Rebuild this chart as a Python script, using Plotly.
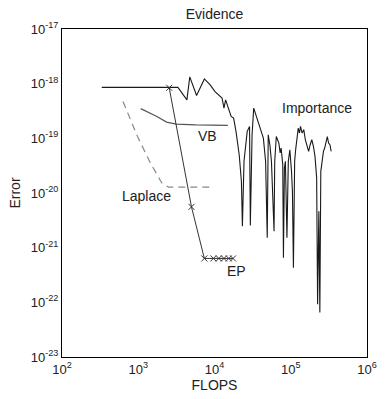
import math
import plotly.graph_objects as go

# ---- data ----
imp_x = [332, 3311, 4345, 4742, 5821, 7362, 8776, 10150, 12560, 13310, 13990, 16520, 17820, 19130,
         21080, 22540, 23220, 24380, 26850, 28820, 29510, 31100, 32690, 35990, 39720, 43750, 46790,
         49170, 50670, 53230, 55820, 60390, 61640, 64610, 69850, 72600, 74780, 78570, 80160, 82570,
         85060, 89120, 92890, 97310, 102300, 105200, 108400, 112500, 115900, 121900, 125400, 130300,
         134200, 141000, 148200, 155300, 163200, 171500, 179700, 188800, 198400, 208000, 218600,
         225000, 233700, 240800, 247800, 258300, 268400, 278800, 292900, 301600, 313400, 326400, 339000]
imp_y = [8.55e-19, 8.55e-19, 5.06e-19, 1.33e-18, 6.07e-19, 1.22e-18, 9.5e-19, 7.18e-19, 5.44e-19,
         3.57e-19, 5.06e-19, 2.51e-19, 2.35e-19, 1.34e-19, 5.02e-20, 1.64e-20, 2.47e-21, 3.80e-20,
         1.34e-19, 1.65e-19, 2.54e-21, 1.16e-19, 3.57e-19, 2.35e-19, 1.65e-19, 1.01e-19, 3.80e-20,
         1.52e-21, 1.16e-19, 7.64e-20, 3.80e-20, 2.00e-21, 3.80e-20, 1.08e-19, 8.20e-20, 5.40e-20,
         6.65e-20, 3.30e-20, 6.55e-22, 2.87e-20, 3.80e-20, 1.52e-21, 3.80e-20, 6.19e-20, 2.49e-20,
         1.07e-20, 4.30e-22, 3.80e-20, 6.19e-20, 1.25e-19, 1.54e-19, 1.25e-19, 1.65e-19, 1.25e-19,
         1.44e-19, 9.42e-20, 7.64e-20, 5.77e-20, 7.64e-20, 9.42e-20, 7.12e-20, 4.68e-20, 1.89e-20,
         9.20e-23, 4.64e-21, 6.49e-23, 2.49e-20, 4.38e-20, 5.77e-20, 6.65e-20, 9.42e-20, 1.08e-19,
         8.20e-20, 7.64e-20, 5.77e-20]

vb_x = [1077, 1756, 2352, 3150, 5650, 14960]
vb_y = [3.5e-19, 2.51e-19, 1.98e-19, 1.82e-19, 1.76e-19, 1.72e-19]

lap_x = [631, 978, 1444, 2032, 2493, 8770]
lap_y = [4.71e-19, 1.08e-19, 3.54e-20, 1.53e-20, 1.28e-20, 1.28e-20]

ep_x = [2547, 4990, 7360, 9660, 11400, 13300, 15400, 17500]
ep_y = [8.4e-19, 5.57e-21, 6.35e-22, 6.35e-22, 6.35e-22, 6.35e-22, 6.35e-22, 6.35e-22]

x_ticks = [100, 1000, 10000, 100000, 1000000]
x_tick_text = ["10<sup>2</sup>", "10<sup>3</sup>", "10<sup>4</sup>", "10<sup>5</sup>", "10<sup>6</sup>"]
y_ticks = [1e-23, 1e-22, 1e-21, 1e-20, 1e-19, 1e-18, 1e-17]
y_tick_text = ["10<sup>-23</sup>", "10<sup>-22</sup>", "10<sup>-21</sup>", "10<sup>-20</sup>",
               "10<sup>-19</sup>", "10<sup>-18</sup>", "10<sup>-17</sup>"]

labels = ["Importance", "VB", "Laplace", "EP"]
label_x = [220000, 8000, 1300, 19300]
label_y = [3.6e-19, 1.11e-19, 8.98e-21, 3.68e-22]

# minor tick positions (2..9 in every decade)
x_minor = [m * d for d in x_ticks[:-1] for m in range(2, 10)]
y_minor = [m * d for d in y_ticks[:-1] for m in range(2, 10)]

FONT = "Liberation Sans, Arial, sans-serif"
TXT = "#222222"
W, H = 388, 399
ML, MR, MT, MB = 62, 11, 29, 41
PW, PH = W - ML - MR, H - MT - MB

fig = go.Figure()
fig.add_trace(go.Scatter(x=imp_x, y=imp_y, mode="lines",
                         line=dict(color="#1a1a1a", width=1.1)))
fig.add_trace(go.Scatter(x=vb_x, y=vb_y, mode="lines",
                         line=dict(color="#555555", width=1.2)))
fig.add_trace(go.Scatter(x=lap_x, y=lap_y, mode="lines",
                         line=dict(color="#888888", width=1.2, dash="7px,5px")))
fig.add_trace(go.Scatter(x=ep_x, y=ep_y, mode="lines+markers",
                         line=dict(color="#333333", width=1),
                         marker=dict(symbol="x-thin", size=6,
                                     line=dict(color="#333333", width=1))))

for t, xv, yv in zip(labels, label_x, label_y):
    fig.add_annotation(x=math.log10(xv), y=math.log10(yv),
                       text=t, showarrow=False, xanchor="center", yanchor="middle",
                       font=dict(family=FONT, size=14, color=TXT))

# inward tick marks on all four sides (drawn as thin line shapes at the tick values)
tick_line = dict(color="black", width=1)
for vals, L in ((x_ticks, 5), (x_minor, 3)):
    for v in vals:
        lv = math.log10(v)
        fig.add_shape(type="line", xref="x", yref="y domain", x0=lv, x1=lv,
                      y0=0, y1=L / PH, line=tick_line)
        fig.add_shape(type="line", xref="x", yref="y domain", x0=lv, x1=lv,
                      y0=1, y1=1 - L / PH, line=tick_line)
for vals, L in ((y_ticks, 5), (y_minor, 3)):
    for v in vals:
        lv = math.log10(v)
        fig.add_shape(type="line", xref="x domain", yref="y", y0=lv, y1=lv,
                      x0=0, x1=L / PW, line=tick_line)
        fig.add_shape(type="line", xref="x domain", yref="y", y0=lv, y1=lv,
                      x0=1, x1=1 - L / PW, line=tick_line)

base = dict(type="log", showgrid=False, zeroline=False, showline=True,
            linecolor="black", linewidth=1, mirror=True, ticks="")

fig.update_layout(
    width=W, height=H,
    margin=dict(l=ML, r=MR, t=MT, b=MB),
    paper_bgcolor="white", plot_bgcolor="white",
    showlegend=False,
    title=dict(text="Evidence", x=0.5, xref="paper", y=1 - 14 / H, yanchor="middle",
               font=dict(family=FONT, size=14, color=TXT)),
    xaxis=dict(**base, range=[2, 6], tickmode="array", tickvals=x_ticks,
               ticktext=x_tick_text, tickfont=dict(family=FONT, size=13, color=TXT),
               title=dict(text="FLOPS", font=dict(family=FONT, size=14, color=TXT), standoff=2)),
    yaxis=dict(**base, range=[-23, -17], tickmode="array", tickvals=y_ticks,
               ticktext=y_tick_text, tickfont=dict(family=FONT, size=13, color=TXT),
               title=dict(text="Error", font=dict(family=FONT, size=14, color=TXT), standoff=6)),
)

fig.write_html("out.html")
